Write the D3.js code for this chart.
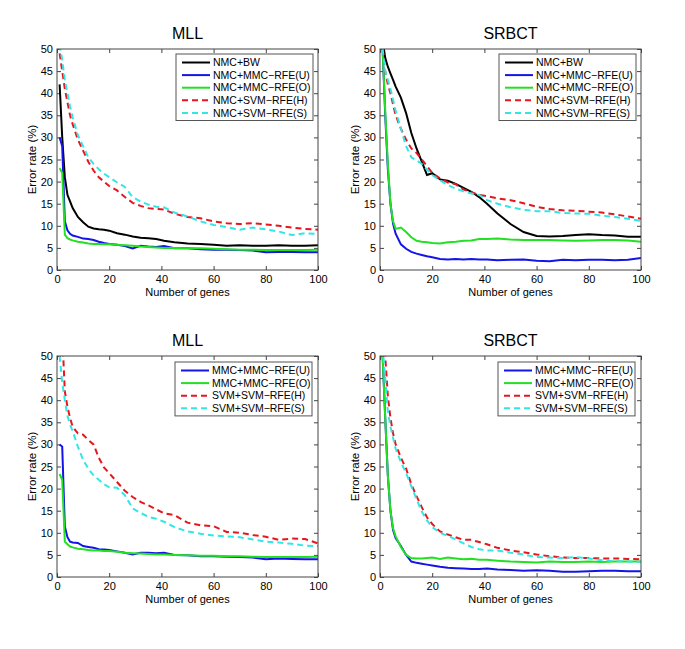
<!DOCTYPE html>
<html>
<head>
<meta charset="utf-8">
<script src="https://cdn.jsdelivr.net/npm/d3@7/dist/d3.min.js"></script>
<style>
  body { margin: 0; background: #fff; }
  text { font-family: "Liberation Sans", Arial, sans-serif; fill: #000; }
</style>
</head>
<body>
<div id="chart"></div>
<script>
// Number of genes (x) shared by all curves
const genes = [1,2,3,4,5,6,8,10,12,14,16,18,20,23,26,29,32,35,38,41,45,50,55,60,65,70,75,80,85,90,95,100];
const xTicks = [0,20,40,60,80,100];
const yTicks = [0,5,10,15,20,25,30,35,40,45,50];

// MLL, NMC classifier
const mllBW   = [42,30,21,17,15.5,14,12,10.8,9.8,9.4,9.2,9.1,8.9,8.3,8.0,7.6,7.3,7.2,7.0,6.6,6.3,6.0,5.9,5.7,5.5,5.6,5.5,5.5,5.6,5.5,5.5,5.6];
const mllNU   = [30,28,11,9,8.2,7.8,7.5,7.1,7.0,6.8,6.4,6.1,5.9,5.7,5.4,4.9,5.5,5.3,5.2,5.4,4.9,4.9,4.7,4.6,4.6,4.5,4.4,4.0,4.1,4.1,4.0,4.0];
const mllNO   = [23,22,8,7.2,6.9,6.7,6.4,6.2,6.0,5.9,5.9,5.8,5.8,5.7,5.6,5.5,5.3,5.2,5.1,5.0,5.0,4.9,4.9,4.8,4.7,4.6,4.6,4.5,4.5,4.5,4.5,4.6];
const mllNH   = [49,45,41,38,35,33,29.5,27,24.5,22.5,21,20,19,18,16.5,15.2,14.5,14,13.8,13.7,12.7,12,11.7,11,10.6,10.4,10.6,10.3,10,9.6,9.3,9.1];
const mllNS   = [51,47.5,43,40,37,34.5,30.5,28,25.5,24,22.8,21.8,21,19.8,18.8,16.5,15.5,14.8,14.3,14.2,13,12.1,11,10.2,9.7,9.1,9.6,9.2,8.7,7.9,8.3,8.2];

// SRBCT, NMC classifier
const srbBW   = [52,48,46,44.5,43,41.5,39,35.5,31,27.5,24.5,21.5,21.9,20.5,20.2,19.5,18.6,17.7,16.5,15,12.8,10.4,8.6,7.7,7.6,7.7,7.9,8.1,7.9,7.8,7.5,7.5];
const srbNU   = [50,35,23,15,10.5,8.2,5.8,4.8,4.1,3.7,3.4,3.1,2.9,2.5,2.4,2.5,2.4,2.5,2.4,2.4,2.2,2.3,2.4,2.1,2.0,2.3,2.2,2.3,2.3,2.2,2.3,2.7];
const srbNO   = [50,36,24,15,11,9.3,9.6,8.6,7.4,6.6,6.4,6.3,6.1,6.0,6.3,6.4,6.6,6.7,7.0,7.0,7.1,6.9,6.8,6.8,6.8,6.7,6.6,6.7,6.8,6.8,6.7,6.4];
const srbNH   = [50,45,42,40,37.5,35,32,29.5,27.5,26.5,25,23.5,22,20.7,19.8,19.4,18.2,17.6,17.0,16.7,16.2,15.8,15.1,14.3,13.8,13.5,13.4,13.2,13.0,12.6,12.1,11.6];
const srbNS   = [50,45,43,41,38.5,36,32,28,25.5,24.8,24,22.7,21.5,20.3,19.2,18.4,17.8,17.3,17.0,15.8,15.0,14.2,13.6,13.3,13.3,12.9,12.8,12.7,12.3,12.0,11.6,11.1];

// MLL, matching classifier
const mllMU   = [30,29.5,11.4,9,8,7.8,7.7,7.0,6.8,6.6,6.3,6.2,6.1,5.8,5.5,5.1,5.5,5.5,5.4,5.5,5.0,4.9,4.7,4.7,4.6,4.5,4.4,4.0,4.2,4.1,4.0,4.0];
const mllMO   = [23.3,22,8,7.4,6.9,6.7,6.4,6.3,6.1,6.0,6.0,5.9,5.9,5.7,5.5,5.4,5.3,5.2,5.1,5.1,5.0,4.9,4.8,4.8,4.7,4.7,4.6,4.5,4.5,4.5,4.5,4.6];
const mllSH   = [58,55,42,38.5,36,34,32.5,32.2,31,30,27,24.8,23.5,21.5,19.5,18.1,17,16.2,15.3,14.4,14.0,12.3,11.7,11.5,10.2,10.0,9.5,9.1,8.4,8.7,8.6,7.6];
const mllSS   = [50,44,40,36.5,34.5,33,29.5,26.5,24.5,23,22,21,20.3,20.2,18.5,15.5,14.5,13.6,13.2,12.5,11.3,10.3,9.8,9.4,9.2,9.0,8.5,8.0,7.8,7.5,7.1,7.0];

// SRBCT, matching classifier
const srbMU   = [50,36,23,15,10.6,8.8,7.0,5.0,3.5,3.2,3.0,2.8,2.6,2.3,2.1,2.0,1.9,1.8,1.8,1.9,1.7,1.6,1.4,1.5,1.4,1.2,1.2,1.3,1.4,1.4,1.3,1.3];
const srbMO   = [50,36,23,15,11,9.2,6.8,5.0,4.3,4.2,4.2,4.3,4.4,4.1,4.4,4.2,4.0,4.1,3.9,3.9,3.7,3.5,3.4,3.3,3.5,3.4,3.4,3.5,3.4,3.5,3.5,3.5];
const srbSH   = [58,50,41,36,32.5,30,27,24.5,21,18.3,15.8,13.5,12,10.3,9.6,9.0,8.4,8.4,7.9,7.4,6.6,6.0,5.6,5.1,4.7,4.4,4.3,4.3,4.2,4.2,4.1,4.0];
const srbSS   = [52,45,37.5,34,31.5,29,26,23.5,20.5,17.6,14.8,12.8,11.3,10.0,9.3,8.5,7.6,6.8,6.3,6.0,6.0,5.5,5.1,4.5,4.4,4.3,4.5,4.2,3.8,3.6,3.5,3.4];

const colors = {bw: "#000000", u: "#1414e6", o: "#22e022", h: "#e6161e", s: "#33e6e6"};

const panels = [
  {title: "MLL", left: 57, top: 49, legendLeft: 176, series: [
    {name: "NMC+BW", values: mllBW, color: colors.bw},
    {name: "NMC+MMC\u2212RFE(U)", values: mllNU, color: colors.u},
    {name: "NMC+MMC\u2212RFE(O)", values: mllNO, color: colors.o},
    {name: "NMC+SVM\u2212RFE(H)", values: mllNH, color: colors.h, dash: true},
    {name: "NMC+SVM\u2212RFE(S)", values: mllNS, color: colors.s, dash: true}]},
  {title: "SRBCT", left: 380, top: 49, legendLeft: 499, series: [
    {name: "NMC+BW", values: srbBW, color: colors.bw},
    {name: "NMC+MMC\u2212RFE(U)", values: srbNU, color: colors.u},
    {name: "NMC+MMC\u2212RFE(O)", values: srbNO, color: colors.o},
    {name: "NMC+SVM\u2212RFE(H)", values: srbNH, color: colors.h, dash: true},
    {name: "NMC+SVM\u2212RFE(S)", values: srbNS, color: colors.s, dash: true}]},
  {title: "MLL", left: 57, top: 356, legendLeft: 175, series: [
    {name: "MMC+MMC\u2212RFE(U)", values: mllMU, color: colors.u},
    {name: "MMC+MMC\u2212RFE(O)", values: mllMO, color: colors.o},
    {name: "SVM+SVM\u2212RFE(H)", values: mllSH, color: colors.h, dash: true},
    {name: "SVM+SVM\u2212RFE(S)", values: mllSS, color: colors.s, dash: true}]},
  {title: "SRBCT", left: 380, top: 356, legendLeft: 498, series: [
    {name: "MMC+MMC\u2212RFE(U)", values: srbMU, color: colors.u},
    {name: "MMC+MMC\u2212RFE(O)", values: srbMO, color: colors.o},
    {name: "SVM+SVM\u2212RFE(H)", values: srbSH, color: colors.h, dash: true},
    {name: "SVM+SVM\u2212RFE(S)", values: srbSS, color: colors.s, dash: true}]}
];

const width = 261, height = 221;

const svg = d3.select("#chart").append("svg")
    .attr("width", 685)
    .attr("height", 649)
    .style("display", "block");

svg.append("rect").attr("width", 685).attr("height", 649).attr("fill", "#fff");

panels.forEach((p, i) => {
    const g = svg.append("g").attr("transform", "translate(" + p.left + "," + p.top + ")");

    const x = d3.scaleLinear().domain([0, 100]).range([0, width]);
    const y = d3.scaleLinear().domain([0, 50]).range([height, 0]);

    g.append("clipPath").attr("id", "clip" + i)
        .append("rect").attr("width", width).attr("height", height);

    // axes, ticks pointing inward like matlab
    g.append("g")
        .attr("transform", "translate(0," + height + ")")
        .call(d3.axisBottom(x).tickValues(xTicks).tickSize(-4).tickPadding(5))
        .call(a => a.select(".domain").remove());
    g.append("g")
        .call(d3.axisTop(x).tickValues(xTicks).tickSize(-4).tickFormat(""))
        .call(a => a.select(".domain").remove());
    g.append("g")
        .call(d3.axisLeft(y).tickValues(yTicks).tickSize(-4).tickPadding(4))
        .call(a => a.select(".domain").remove());
    g.append("g")
        .attr("transform", "translate(" + width + ",0)")
        .call(d3.axisRight(y).tickValues(yTicks).tickSize(-4).tickFormat(""))
        .call(a => a.select(".domain").remove());

    g.selectAll(".tick line").attr("stroke", "#444");
    g.selectAll(".tick text")
        .attr("font-size", 11)
        .attr("font-family", "Liberation Sans, Arial, sans-serif")
        .attr("fill", "#000");

    // the curves
    const line = d3.line()
        .x((d, j) => x(genes[j]))
        .y(d => y(d));

    g.append("g").attr("clip-path", "url(#clip" + i + ")")
        .selectAll("path")
        .data(p.series)
        .join("path")
        .attr("d", d => line(d.values))
        .attr("fill", "none")
        .attr("stroke", d => d.color)
        .attr("stroke-width", 2)
        .attr("stroke-dasharray", d => d.dash ? "6,4" : null);

    // frame
    g.append("rect")
        .attr("width", width)
        .attr("height", height)
        .attr("fill", "none")
        .attr("stroke", "#444")
        .attr("stroke-width", 1);

    // titles and axis labels
    g.append("text")
        .attr("x", width / 2)
        .attr("y", -10)
        .attr("text-anchor", "middle")
        .attr("font-size", 16)
        .text(p.title);
    g.append("text")
        .attr("x", width / 2)
        .attr("y", height + 25.5)
        .attr("text-anchor", "middle")
        .attr("font-size", 11)
        .text("Number of genes");
    g.append("text")
        .attr("transform", "translate(-21," + (height / 2) + ") rotate(-90)")
        .attr("text-anchor", "middle")
        .attr("font-size", 11.5)
        .text("Error rate (%)");

    // legend
    const lx = p.legendLeft - p.left;
    const ly = (p.series.length === 5 ? 5 : 6);
    const lg = g.append("g").attr("transform", "translate(" + lx + "," + ly + ")");
    lg.append("rect")
        .attr("width", 137)
        .attr("height", p.series.length * 12.6 + 3.5)
        .attr("fill", "#fff")
        .attr("stroke", "#555")
        .attr("stroke-width", 1);
    const item = lg.selectAll(".item")
        .data(p.series)
        .join("g")
        .attr("class", "item")
        .attr("transform", (d, j) => "translate(0," + (8.5 + j * 12.6) + ")");
    item.append("line")
        .attr("x1", 6).attr("x2", 34)
        .attr("stroke", d => d.color)
        .attr("stroke-width", 2)
        .attr("stroke-dasharray", d => d.dash ? "6,4" : null);
    item.append("text")
        .attr("x", 37)
        .attr("dy", "0.35em")
        .attr("font-size", 10.5)
        .text(d => d.name);
});
</script>
</body>
</html>
